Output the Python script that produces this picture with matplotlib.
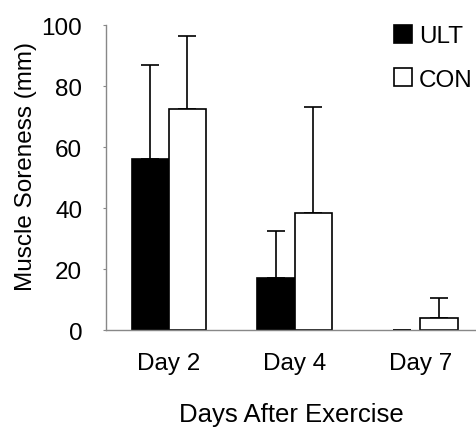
import matplotlib
matplotlib.use("Agg")
import matplotlib.pyplot as plt
import numpy as np

# values
days = ["Day 2", "Day 4", "Day 7"]
ult_mean = [56.0, 17.0, 0.0]
ult_sd = [31.0, 15.5, 0.0]
con_mean = [72.5, 38.5, 4.0]
con_sd = [24.0, 34.5, 6.5]
y_ticks = [0, 20, 40, 60, 80, 100]

plt.rcParams["font.family"] = ["Liberation Sans", "DejaVu Sans"]

fig = plt.figure(figsize=(4.77, 4.35), dpi=100)
ax = fig.add_axes([0.222, 0.239, 0.778, 0.701])

x = np.arange(len(days))
w = 0.295

ult_lw = [1.2 if v > 0 else 0 for v in ult_mean]
ax.bar(x - w / 2, ult_mean, w, color="black", edgecolor="black",
       linewidth=ult_lw, label="ULT", zorder=2)
ax.bar(x + w / 2, con_mean, w, color="white", edgecolor="black",
       linewidth=1.2, label="CON", zorder=2)

ax.errorbar(x - w / 2, ult_mean, yerr=[np.zeros(3), ult_sd], fmt="none",
            ecolor="black", elinewidth=1.2, capsize=6.5, capthick=1.2, zorder=1)
ax.errorbar(x + w / 2, con_mean, yerr=[np.zeros(3), con_sd], fmt="none",
            ecolor="black", elinewidth=1.2, capsize=6.5, capthick=1.2, zorder=1)

ax.set_xlim(-0.5, 2.45)
ax.set_ylim(0, 100)
ax.set_yticks(y_ticks)
ax.set_xticks(x)
ax.set_xticklabels(days)

for s in ["top", "right"]:
    ax.spines[s].set_visible(False)
for s in ["left", "bottom"]:
    ax.spines[s].set_color("#888888")
    ax.spines[s].set_linewidth(1.0)

ax.tick_params(axis="y", length=2, color="#888888", pad=15, labelsize=17.5)
ax.tick_params(axis="x", length=0, pad=16, labelsize=17.5)

ax.set_ylabel("Muscle Soreness (mm)", fontsize=17.5)
ax.yaxis.set_label_coords(-0.185, 0.54)
ax.set_xlabel("Days After Exercise", fontsize=18.5, labelpad=20)

ax.legend(loc="upper left", bbox_to_anchor=(0.775, 1.0), frameon=False,
          fontsize=17.5, handlelength=0.75, handleheight=0.75,
          handletextpad=0.3, labelspacing=0.85, borderaxespad=0,
          borderpad=0)

fig.savefig("out.png", dpi=100)
plt.close(fig)
